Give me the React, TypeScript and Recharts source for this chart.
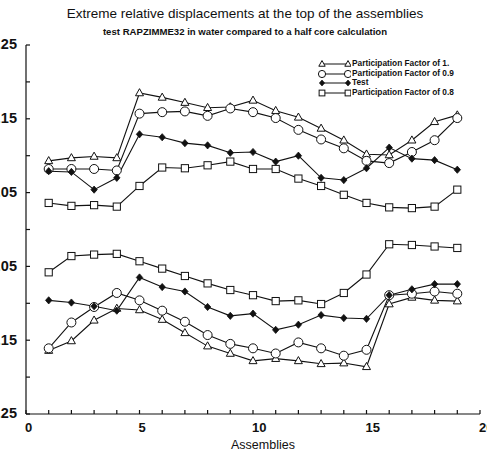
import React from 'react';
import { LineChart, Line, XAxis, YAxis, Legend } from 'recharts';

// Assembly index along the core row
const assemblies = [1, 2, 3, 4, 5, 6, 7, 8, 9, 10, 11, 12, 13, 14, 15, 16, 17, 18, 19];

// Upper (positive) and lower (negative) extreme displacements per series
const pf10Upper = [0.093, 0.097, 0.099, 0.097, 0.185, 0.179, 0.172, 0.165, 0.166, 0.175, 0.161, 0.152, 0.137, 0.121, 0.102, 0.101, 0.121, 0.146, 0.155];
const pf10Lower = [-0.164, -0.151, -0.123, -0.107, -0.109, -0.122, -0.14, -0.158, -0.168, -0.178, -0.175, -0.178, -0.182, -0.181, -0.186, -0.101, -0.092, -0.096, -0.097];
const pf09Upper = [0.082, 0.082, 0.082, 0.08, 0.157, 0.159, 0.16, 0.154, 0.164, 0.159, 0.151, 0.135, 0.122, 0.11, 0.093, 0.09, 0.105, 0.121, 0.151];
const pf09Lower = [-0.161, -0.126, -0.105, -0.086, -0.096, -0.11, -0.125, -0.143, -0.155, -0.161, -0.168, -0.153, -0.161, -0.171, -0.163, -0.089, -0.087, -0.084, -0.087];
const testUpper = [0.079, 0.078, 0.054, 0.07, 0.129, 0.125, 0.117, 0.114, 0.104, 0.105, 0.092, 0.1, 0.07, 0.067, 0.083, 0.111, 0.096, 0.094, 0.081];
const testLower = [-0.096, -0.099, -0.104, -0.11, -0.065, -0.078, -0.084, -0.105, -0.117, -0.114, -0.136, -0.129, -0.116, -0.12, -0.121, -0.089, -0.081, -0.074, -0.074];
const pf08Upper = [0.036, 0.032, 0.033, 0.031, 0.059, 0.084, 0.083, 0.087, 0.092, 0.082, 0.082, 0.069, 0.059, 0.047, 0.036, 0.03, 0.029, 0.031, 0.054];
const pf08Lower = [-0.058, -0.036, -0.034, -0.033, -0.043, -0.053, -0.063, -0.073, -0.082, -0.089, -0.097, -0.096, -0.101, -0.086, -0.061, -0.02, -0.021, -0.023, -0.025];

const xTicks = [0, 1, 2, 3, 4, 5, 6, 7, 8, 9, 10, 11, 12, 13, 14, 15, 16, 17, 18, 19, 20];
const yTicks = [-0.25, -0.2, -0.15, -0.1, -0.05, 0, 0.05, 0.1, 0.15, 0.2, 0.25];

type MarkerKind = 'triangle' | 'circle' | 'diamond' | 'square';

const series: { key: string; name: string; marker: MarkerKind; upper: number[]; lower: number[] }[] = [
  { key: 'pf10', name: 'Participation Factor of 1.', marker: 'triangle', upper: pf10Upper, lower: pf10Lower },
  { key: 'pf09', name: 'Participation Factor of 0.9', marker: 'circle', upper: pf09Upper, lower: pf09Lower },
  { key: 'test', name: 'Test', marker: 'diamond', upper: testUpper, lower: testLower },
  { key: 'pf08', name: 'Participation Factor of 0.8', marker: 'square', upper: pf08Upper, lower: pf08Lower },
];

const rows = assemblies.map((a, i) => {
  const row: Record<string, number> = { assembly: a };
  series.forEach(s => {
    row[`${s.key}Up`] = s.upper[i];
    row[`${s.key}Low`] = s.lower[i];
  });
  return row;
});

const INK = '#111';
const FONT = '"Liberation Sans", Arial, Helvetica, sans-serif';

const Marker = ({ kind, cx, cy, s = 1 }: { kind: MarkerKind; cx: number; cy: number; s?: number }) => {
  switch (kind) {
    case 'triangle':
      return (
        <polygon
          points={`${cx},${cy - 4.3 * s} ${cx - 4 * s},${cy + 2.8 * s} ${cx + 4 * s},${cy + 2.8 * s}`}
          fill="#fff"
          stroke={INK}
          strokeWidth={1}
        />
      );
    case 'circle':
      return <circle cx={cx} cy={cy} r={4.5 * s} fill="#fff" stroke={INK} strokeWidth={1} />;
    case 'diamond':
      return (
        <polygon
          points={`${cx},${cy - 3.6 * s} ${cx + 3.2 * s},${cy} ${cx},${cy + 3.6 * s} ${cx - 3.2 * s},${cy}`}
          fill={INK}
          stroke={INK}
          strokeWidth={0.8}
        />
      );
    default:
      return (
        <rect x={cx - 3.6 * s} y={cy - 3.6 * s} width={7.2 * s} height={7.2 * s} fill="#fff" stroke={INK} strokeWidth={1} />
      );
  }
};

// bottom labels sit just right of their tick, only every fifth assembly
const XTick = (props: any) => {
  const { x, y, payload } = props;
  if (payload.value % 5 !== 0) return <g />;
  return (
    <text x={x} y={y} dx={-1} dy="0.71em" textAnchor="start" fontSize={13} fontWeight="bold" fill={INK} fontFamily={FONT}>
      {payload.value}
    </text>
  );
};

// left labels only on the odd hundredths (±0.05, ±0.15, ±0.25)
const YTick = (props: any) => {
  const { x, y, payload } = props;
  const hundredths = Math.round(payload.value * 100);
  if (hundredths % 10 === 0) return <g />;
  return (
    <text x={x} y={y} dy="0.3em" textAnchor="end" fontSize={14.5} fontWeight="bold" fill={INK} fontFamily={FONT}>
      {payload.value.toFixed(2)}
    </text>
  );
};

const AxisTitle = (props: any) => {
  const { viewBox } = props;
  return (
    <text x={viewBox.x + viewBox.width / 2 + 10} y={viewBox.y + 35} textAnchor="middle" fontSize={12.5} fill={INK} fontFamily={FONT}>
      Assemblies
    </text>
  );
};

const LegendBox = () => (
  <div style={{ fontFamily: FONT, fontSize: 8.3, fontWeight: 'bold', color: INK }}>
    {series.map(s => (
      <div key={s.key} style={{ display: 'flex', alignItems: 'center', height: 9.7, lineHeight: '9.7px' }}>
        <svg width={34} height={10} style={{ display: 'block' }}>
          <line x1={5} y1={5} x2={31} y2={5} stroke={INK} strokeWidth={1} />
          <Marker kind={s.marker} cx={5} cy={5} s={0.8} />
          <Marker kind={s.marker} cx={31} cy={5} s={0.8} />
        </svg>
        <span style={{ marginLeft: 1, whiteSpace: 'nowrap' }}>{s.name}</span>
      </div>
    ))}
  </div>
);

export default function App() {
  return (
    <div style={{ position: 'absolute', left: 0, top: 0, width: 487, height: 456, background: '#fff' }}>
      <div
        style={{
          position: 'absolute', left: 0, top: 6, width: 490, textAlign: 'center',
          fontFamily: FONT, fontSize: 13.5, color: INK, lineHeight: '16px',
        }}
      >
        Extreme relative displacements at the top of the assemblies
      </div>
      <div
        style={{
          position: 'absolute', left: 0, top: 26, width: 490, textAlign: 'center',
          fontFamily: FONT, fontSize: 9.6, fontWeight: 'bold', color: INK, lineHeight: '12px',
        }}
      >
        test RAPZIMME32 in water compared to a half core calculation
      </div>
      <LineChart width={487} height={456} data={rows} margin={{ top: 45, right: 7, bottom: 0, left: 0 }}>
        <XAxis
          xAxisId="bottom"
          dataKey="assembly"
          type="number"
          domain={[0, 20]}
          ticks={xTicks}
          interval={0}
          height={42}
          tickSize={-4}
          tickMargin={13}
          tick={<XTick />}
          stroke={INK}
          strokeWidth={1.2}
          label={<AxisTitle />}
        />
        <XAxis
          xAxisId="top"
          orientation="top"
          dataKey="assembly"
          type="number"
          domain={[0, 20]}
          ticks={xTicks}
          interval={0}
          height={0}
          tickSize={-4}
          tick={false}
          stroke={INK}
          strokeWidth={1.2}
        />
        <YAxis
          yAxisId="left"
          type="number"
          domain={[-0.25, 0.25]}
          ticks={yTicks}
          interval={0}
          width={26}
          tickSize={-4}
          tickMargin={13}
          tick={<YTick />}
          stroke={INK}
          strokeWidth={1.2}
        />
        <YAxis
          yAxisId="right"
          orientation="right"
          type="number"
          domain={[-0.25, 0.25]}
          ticks={yTicks}
          interval={0}
          width={0}
          tickSize={-4}
          tick={false}
          stroke={INK}
          strokeWidth={1.2}
        />
        <Legend
          layout="horizontal"
          align="center"
          verticalAlign="middle"
          content={<LegendBox />}
          wrapperStyle={{ position: 'absolute', left: 317, top: 59, width: 165 }}
        />
        {series.flatMap(s =>
          (['Up', 'Low'] as const).map(part => (
            <Line
              key={`${s.key}${part}`}
              xAxisId="bottom"
              yAxisId="left"
              type="linear"
              dataKey={`${s.key}${part}`}
              name={s.name}
              stroke={INK}
              strokeWidth={1.1}
              isAnimationActive={false}
              legendType="none"
              dot={(p: any) => <Marker key={`${s.key}${part}-${p.index}`} kind={s.marker} cx={p.cx} cy={p.cy} />}
              activeDot={false}
            />
          ))
        )}
      </LineChart>
    </div>
  );
}
